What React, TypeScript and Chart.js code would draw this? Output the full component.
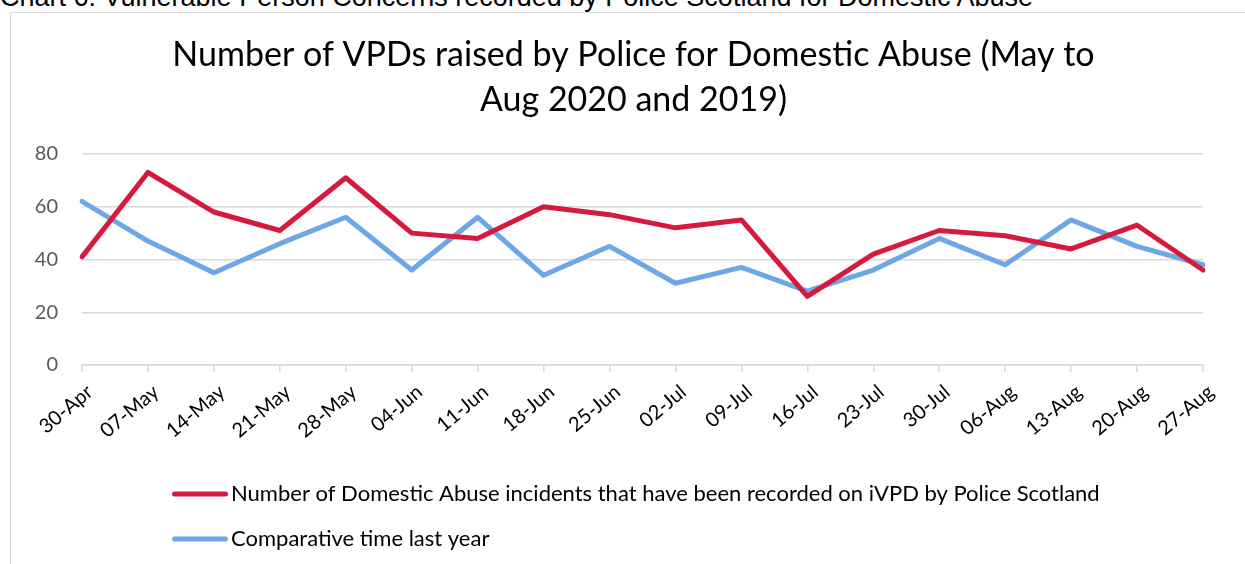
import React, { useEffect, useRef } from "react";
import { Chart, registerables } from "chart.js";

Chart.register(...registerables);

const categories = [
  "30-Apr", "07-May", "14-May", "21-May", "28-May", "04-Jun", "11-Jun", "18-Jun", "25-Jun",
  "02-Jul", "09-Jul", "16-Jul", "23-Jul", "30-Jul", "06-Aug", "13-Aug", "20-Aug", "27-Aug",
];
const series2020 = [41, 73, 58, 51, 71, 50, 48, 60, 57, 52, 55, 26, 42, 51, 49, 44, 53, 36];
const series2019 = [62, 47, 35, 46, 56, 36, 56, 34, 45, 31, 37, 28, 36, 48, 38, 55, 45, 38];
const label2020 = "Number of Domestic Abuse incidents that have been recorded on iVPD by Police Scotland";
const label2019 = "Comparative time last year";
const titleLines = ["Number of VPDs raised by Police for Domestic Abuse (May to", "Aug 2020 and 2019)"];
const yTicks = [0, 20, 40, 60, 80];
const headerText = "Chart 6: Vulnerable Person Concerns recorded by Police Scotland for Domestic Abuse";

const FONT = "Lato, 'Open Sans', sans-serif";

const legendPlugin = {
  id: "stackedLegend",
  afterDraw(chart: any) {
    const ctx = chart.ctx;
    const x0 = 163.5;
    const yStart = 481;
    const rowGap = 45;
    ctx.save();
    chart.data.datasets.forEach((ds: any, i: number) => {
      const y = yStart + i * rowGap;
      ctx.strokeStyle = ds.borderColor;
      ctx.lineWidth = 5;
      ctx.lineCap = "round";
      ctx.beginPath();
      ctx.moveTo(x0, y);
      ctx.lineTo(x0 + 51, y);
      ctx.stroke();
      ctx.fillStyle = "#000000";
      ctx.font = `22px ${FONT}`;
      ctx.textBaseline = "middle";
      ctx.textAlign = "left";
      ctx.fillText(ds.label, 220, y);
    });
    ctx.restore();
  },
};

export default function App() {
  const ref = useRef<HTMLCanvasElement | null>(null);

  useEffect(() => {
    if (!ref.current) return;
    const chart = new Chart(ref.current, {
      type: "line",
      data: {
        labels: categories,
        datasets: [
          {
            label: label2020,
            data: series2020,
            borderColor: "#D51A3E",
            backgroundColor: "#D51A3E",
            borderWidth: 5,
            pointRadius: 0,
            tension: 0,
            borderJoinStyle: "round",
            borderCapStyle: "round",
          },
          {
            label: label2019,
            data: series2019,
            borderColor: "#6DA7E8",
            backgroundColor: "#6DA7E8",
            borderWidth: 5,
            pointRadius: 0,
            tension: 0,
            borderJoinStyle: "round",
            borderCapStyle: "round",
          },
        ],
      },
      options: {
        responsive: false,
        animation: false,
        layout: { padding: { left: 0, right: 0, top: 0, bottom: 109 } },
        plugins: {
          legend: { display: false },
          tooltip: { enabled: false },
          title: {
            display: true,
            text: titleLines,
            color: "#000000",
            font: { family: FONT, size: 34, weight: "normal", lineHeight: 45 / 34 },
            padding: { top: 19.5, bottom: 31.5 },
          },
        },
        scales: {
          x: {
            afterFit: (s: any) => { s.height = 90; },
            grid: {
              display: true,
              drawOnChartArea: false,
              drawTicks: true,
              tickLength: 7,
              color: "#D9D9D9",
              lineWidth: 1.5,
            },
            border: { display: true, color: "#D9D9D9", width: 1.5 },
            ticks: {
              autoSkip: false,
              minRotation: 40,
              maxRotation: 40,
              color: "#000000",
              padding: 8,
              labelOffset: 8,
              font: { family: FONT, size: 20 },
            },
          },
          y: {
            min: 0,
            max: 80,
            afterFit: (s: any) => { s.width = 71; },
            afterBuildTicks: (s: any) => { s.ticks = yTicks.map((v) => ({ value: v })); },
            grid: { color: "#D9D9D9", lineWidth: 1.5, drawTicks: false },
            border: { display: false },
            ticks: {
              color: "#595959",
              padding: 24,
              font: { family: FONT, size: 20 },
            },
          },
          yRightSpace: {
            type: "linear",
            position: "right",
            display: true,
            afterFit: (s: any) => { s.width = 53; },
            grid: { display: false, drawTicks: false },
            border: { display: false },
            ticks: { display: false },
          },
        },
      },
      plugins: [legendPlugin],
    });
    return () => chart.destroy();
  }, []);

  return (
    <div style={{ position: "fixed", left: 0, top: 0, width: 1245, height: 564, overflow: "hidden", background: "#fff" }}>
      <div
        style={{
          position: "absolute",
          left: 0,
          top: -16,
          fontFamily: "'Liberation Sans', Arial, sans-serif",
          fontSize: 27,
          lineHeight: 1,
          color: "#000",
          whiteSpace: "nowrap",
        }}
      >
        {headerText}
      </div>
      <div
        style={{
          position: "absolute",
          left: 10,
          top: 12,
          width: 1260,
          height: 600,
          border: "1px solid #D9D9D9",
          boxSizing: "border-box",
          background: "#fff",
        }}
      />
      <canvas ref={ref} width={1245} height={551} style={{ position: "absolute", left: 11, top: 13, width: 1245, height: 551 }} />
    </div>
  );
}
